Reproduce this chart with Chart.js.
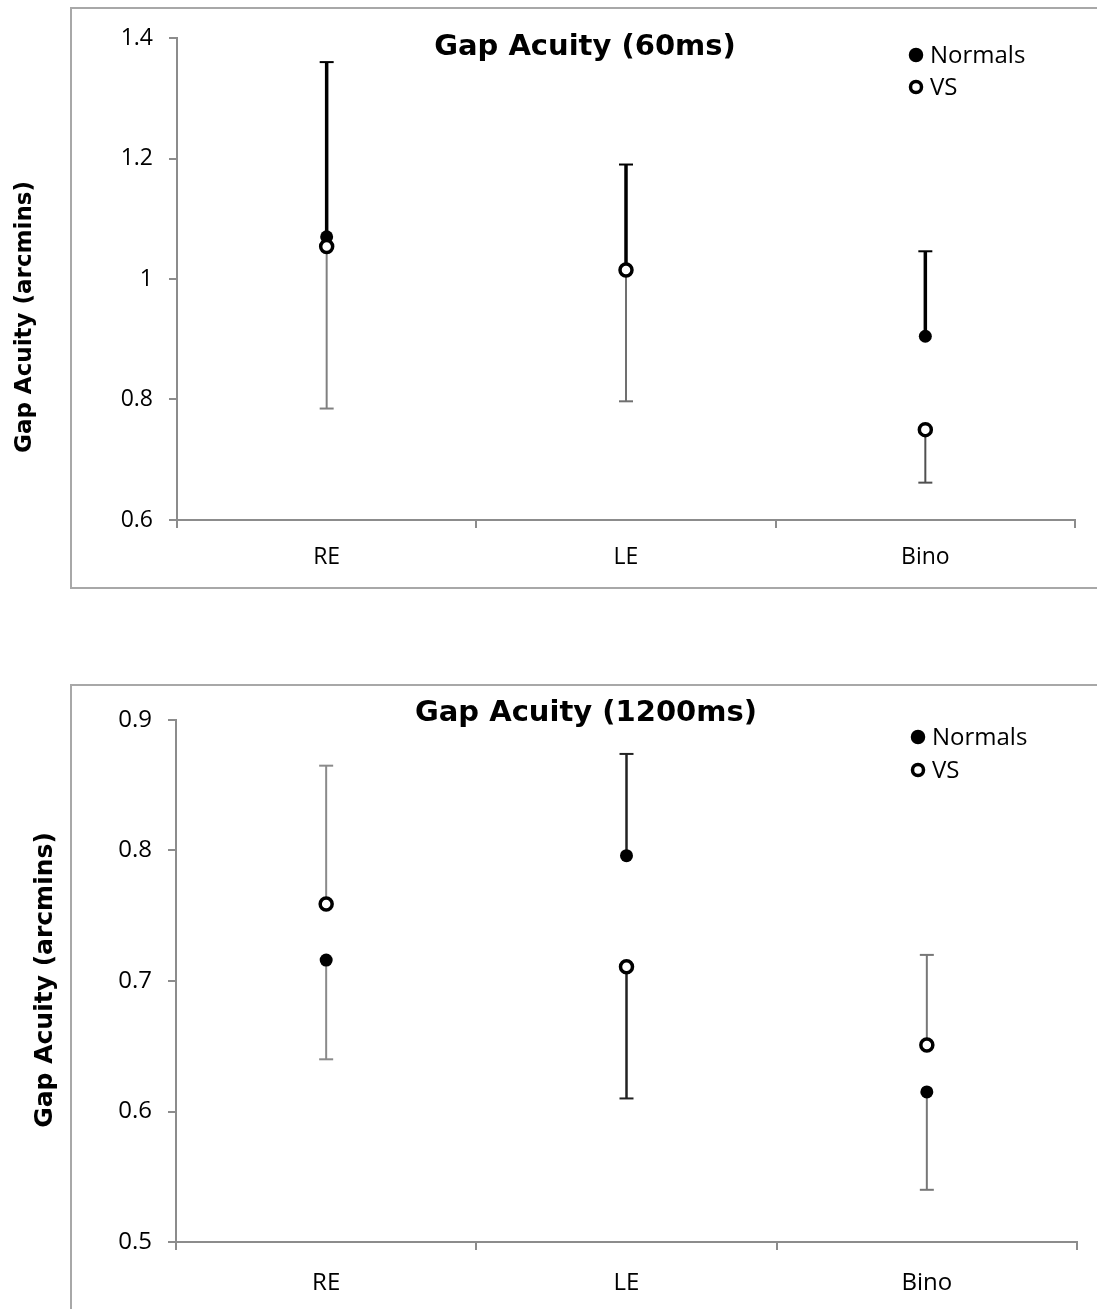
<!DOCTYPE html>
<html>
<head>
<meta charset="utf-8">
<script src="https://cdn.jsdelivr.net/npm/chart.js@4.4.1/dist/chart.umd.min.js"></script>
<style>
  body { margin: 0; background: #fff; width: 1097px; height: 1309px; position: relative; overflow: hidden; }
  .frame { position: absolute; border: 2px solid #a8a8a8; box-sizing: border-box; }
  #frame-top { left: 70px; top: 7px; width: 1040px; height: 582px; }
  #frame-bottom { left: 70px; top: 684px; width: 1040px; height: 700px; }
  .wrap { position: absolute; left: 0; width: 1097px; }
  #wrap-top { top: 0; height: 600px; }
  #wrap-bottom { top: 600px; height: 709px; }
</style>
</head>
<body>
<div class="frame" id="frame-top"></div>
<div class="frame" id="frame-bottom"></div>
<div class="wrap" id="wrap-top"><canvas id="chart-60"></canvas></div>
<div class="wrap" id="wrap-bottom"><canvas id="chart-1200"></canvas></div>
<script>
const categories = ["RE", "LE", "Bino"];

// Gap acuity 60 ms (arcmins)
const normals60 = [1.07, 1.015, 0.905];
const normals60Bar = [1.36, 1.19, 1.046];
const vs60 = [1.054, 1.015, 0.75];
const vs60Bar = [0.785, 0.797, 0.662];
const ticks60 = [0.6, 0.8, 1, 1.2, 1.4];

// Gap acuity 1200 ms (arcmins)
const normals1200 = [0.716, 0.796, 0.615];
const normals1200Bar = [0.64, 0.874, 0.54];
const vs1200 = [0.759, 0.711, 0.651];
const vs1200Bar = [0.865, 0.61, 0.72];
const ticks1200 = [0.5, 0.6, 0.7, 0.8, 0.9];

const tickFont = "'Open Sans', sans-serif";
const boldFont = "'DejaVu Sans', sans-serif";

// error bars under the points
const errorBars = {
  id: "errorBars",
  beforeDatasetsDraw(chart) {
    const c = chart.ctx;
    const x = chart.scales.x;
    const y = chart.scales.y;
    chart.data.datasets.forEach((ds) => {
      if (!ds.errorTo) return;
      ds.data.forEach((v, i) => {
        const px = x.getPixelForValue(i);
        const y0 = y.getPixelForValue(v);
        const y1 = y.getPixelForValue(ds.errorTo[i]);
        c.save();
        c.strokeStyle = ds.errorColor[i];
        c.lineWidth = ds.errorWidth[i];
        c.beginPath();
        c.moveTo(px, y0);
        c.lineTo(px, y1);
        c.stroke();
        c.lineWidth = 2;
        c.beginPath();
        c.moveTo(px - 7, y1);
        c.lineTo(px + 7, y1);
        c.stroke();
        c.restore();
      });
    });
  },
};

// title, y title and legend drawn into the canvas
const decor = {
  id: "decor",
  afterDraw(chart, args, opts) {
    const c = chart.ctx;
    c.save();
    c.fillStyle = "#000";
    c.textAlign = "center";
    c.textBaseline = "middle";
    c.font = "bold " + opts.titleSize + "px " + boldFont;
    c.fillText(opts.title, opts.titleX, opts.titleY);

    c.save();
    c.translate(opts.yTitleX, opts.yTitleY);
    c.rotate(-Math.PI / 2);
    c.font = "bold " + opts.yTitleSize + "px " + boldFont;
    c.fillText("Gap Acuity (arcmins)", 0, 0);
    c.restore();

    c.textAlign = "left";
    c.font = "24px " + tickFont;
    chart.data.datasets.forEach((ds, k) => {
      const lx = opts.legendX;
      const ly = opts.legendY + k * opts.legendGap;
      c.beginPath();
      c.arc(lx, ly, 5.5, 0, Math.PI * 2);
      c.fillStyle = ds.pointBackgroundColor;
      c.fill();
      c.lineWidth = 3.5;
      c.strokeStyle = "#000";
      c.stroke();
      c.fillStyle = "#000";
      c.fillText(ds.label, lx + 14, ly + 1);
    });
    c.restore();
  },
};

const makeChart = (canvasId, normals, normalsBar, vs, vsBar, ticks, opts) => {
  return new Chart(document.getElementById(canvasId), {
    type: "line",
    data: {
      labels: categories,
      datasets: [
        {
          label: "Normals",
          data: normals,
          errorTo: normalsBar,
          errorColor: opts.normalsBarColor,
          errorWidth: opts.normalsBarWidth,
          showLine: false,
          pointRadius: 6.5,
          pointBackgroundColor: "#000",
          pointBorderColor: "#000",
          pointBorderWidth: 0,
          order: 2,
        },
        {
          label: "VS",
          data: vs,
          errorTo: vsBar,
          errorColor: opts.vsBarColor,
          errorWidth: opts.vsBarWidth,
          showLine: false,
          pointRadius: 6,
          pointBackgroundColor: "#fff",
          pointBorderColor: "#000",
          pointBorderWidth: 3.5,
          order: 1,
        },
      ],
    },
    options: {
      responsive: true,
      maintainAspectRatio: false,
      animation: false,
      layout: { padding: opts.padding },
      plugins: {
        legend: { display: false },
        tooltip: { enabled: false },
        decor: opts.decor,
      },
      scales: {
        x: {
          type: "category",
          offset: true,
          grid: { offset: true, drawOnChartArea: false, tickLength: 8, color: "#8c8c8c", lineWidth: 2 },
          border: { color: "#8c8c8c", width: 2 },
          ticks: { color: "#000", padding: opts.xPad, font: { family: tickFont, size: opts.tickSize } },
          afterFit: (s) => { s.height = 50; },
        },
        y: {
          min: ticks[0],
          max: ticks[ticks.length - 1],
          afterBuildTicks: (s) => { s.ticks = ticks.map((v) => ({ value: v })); },
          grid: { drawOnChartArea: false, tickLength: 8, color: "#8c8c8c", lineWidth: 2 },
          border: { color: "#8c8c8c", width: 2 },
          ticks: {
            color: "#000",
            padding: 16,
            font: { family: tickFont, size: opts.tickSize },
            callback: (v) => String(v),
          },
          afterFit: (s) => { s.width = opts.yWidth; },
        },
      },
    },
    plugins: [errorBars, decor],
  });
};

makeChart("chart-60", normals60, normals60Bar, vs60, vs60Bar, ticks60, {
  padding: { left: 0, top: 38, right: 22, bottom: 30 },
  yWidth: 177,
  tickSize: 23,
  xPad: 16,
  normalsBarColor: ["#000", "#000", "#000"],
  normalsBarWidth: [3.5, 3.5, 3.5],
  vsBarColor: ["#808080", "#707070", "#505050"],
  vsBarWidth: [2, 2, 2],
  decor: {
    title: "Gap Acuity (60ms)", titleSize: 29, titleX: 585, titleY: 47,
    yTitleSize: 23, yTitleX: 25, yTitleY: 317,
    legendX: 916, legendY: 55, legendGap: 32,
  },
});

makeChart("chart-1200", normals1200, normals1200Bar, vs1200, vs1200Bar, ticks1200, {
  padding: { left: 0, top: 120, right: 20, bottom: 17 },
  yWidth: 176,
  tickSize: 24,
  xPad: 19,
  normalsBarColor: ["#8a8a8a", "#222", "#777"],
  normalsBarWidth: [2, 2.5, 2],
  vsBarColor: ["#8a8a8a", "#222", "#777"],
  vsBarWidth: [2, 2.5, 2],
  decor: {
    title: "Gap Acuity (1200ms)", titleSize: 29, titleX: 586, titleY: 113,
    yTitleSize: 25, yTitleX: 45, yTitleY: 380,
    legendX: 918, legendY: 137, legendGap: 33,
  },
});
</script>
</body>
</html>
